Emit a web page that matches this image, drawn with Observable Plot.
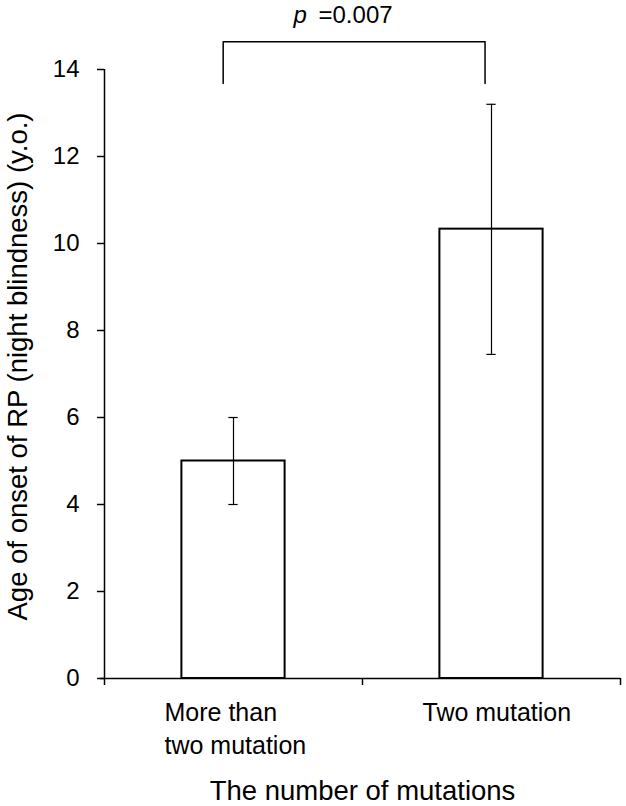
<!DOCTYPE html>
<html>
<head>
<meta charset="utf-8">
<script src="https://cdn.jsdelivr.net/npm/d3@7"></script>
<script src="https://cdn.jsdelivr.net/npm/@observablehq/plot@0.6"></script>
<style>
  html, body { margin: 0; padding: 0; background: white; }
</style>
</head>
<body>
<div id="chart"></div>
<script>
// ---- data ----
const categories = ["More than\ntwo mutation", "Two mutation"];
const means = [5.0, 10.33];
const errLow = [4.0, 7.45];
const errHigh = [6.0, 13.2];
const yTicks = [0, 2, 4, 6, 8, 10, 12, 14];
const pLabel = "=0.007";
const yTitle = "Age of onset of RP (night blindness) (y.o.)";
const xTitle = "The number of mutations";

const data = categories.map((c, i) => ({
  label: c, pos: i + 0.5, mean: means[i], lo: errLow[i], hi: errHigh[i]
}));

const halfBar = 0.2;
const halfCap = 0.018;
const bracketTop = 14.64, bracketEnd = 13.68;
const bracket = [
  {x: data[0].pos - 0.04, y: bracketEnd},
  {x: data[0].pos - 0.04, y: bracketTop},
  {x: data[1].pos - 0.025, y: bracketTop},
  {x: data[1].pos - 0.025, y: bracketEnd}
];

const chart = Plot.plot({
  width: 626,
  height: 806,
  marginLeft: 104,
  marginRight: 6,
  marginTop: 69,
  marginBottom: 128,
  style: {fontFamily: "'Liberation Sans', Arial, sans-serif", fontSize: "24px", color: "black", background: "white"},
  x: {type: "linear", domain: [0, 2]},
  y: {domain: [0, 14]},
  marks: [
    Plot.axisY({ticks: yTicks, tickSize: 7, tickPadding: 18, label: null, strokeWidth: 1.5, fontSize: 24}),
    Plot.axisX({ticks: [0, 1, 2], tickFormat: () => "", tickSize: 7, label: null, strokeWidth: 1.5}),
    Plot.rectY(data, {x1: d => d.pos - halfBar, x2: d => d.pos + halfBar, y1: 0, y2: "mean", fill: "white", stroke: "black", strokeWidth: 2}),
    Plot.ruleX([0], {y1: 0, y2: 14, strokeWidth: 1.5}),
    Plot.ruleY([0], {x1: -0.015, x2: 2, strokeWidth: 1.5}),
    Plot.ruleX(data, {x: "pos", y1: "lo", y2: "hi", strokeWidth: 1.2}),
    Plot.ruleY(data, {y: "hi", x1: d => d.pos - halfCap, x2: d => d.pos + halfCap, strokeWidth: 1.2}),
    Plot.ruleY(data, {y: "lo", x1: d => d.pos - halfCap, x2: d => d.pos + halfCap, strokeWidth: 1.2}),
    Plot.line(bracket, {x: "x", y: "y", stroke: "black", strokeWidth: 1.5}),
    Plot.text([pLabel], {x: 1, y: 14, textAnchor: "start", dx: -69, dy: -64, fontStyle: "italic", fontSize: 24, text: () => "p", lineAnchor: "top"}),
    Plot.text([pLabel], {x: 1, y: 14, textAnchor: "start", dx: -44, dy: -64, fontSize: 24, text: d => d, lineAnchor: "top"}),
    Plot.text(data, {x: "pos", y: 0, text: "label", textAnchor: "start", dx: -69, dy: 19, lineAnchor: "top", lineHeight: 1.32, fontSize: 25}),
    Plot.text([xTitle], {frameAnchor: "bottom", dy: 102, lineAnchor: "top", fontSize: 27.5}),
    Plot.text([yTitle], {frameAnchor: "left", textAnchor: "middle", rotate: -90, dx: -86, dy: -7.5, fontSize: 27.5})
  ]
});
document.getElementById("chart").appendChild(chart);
</script>
</body>
</html>
